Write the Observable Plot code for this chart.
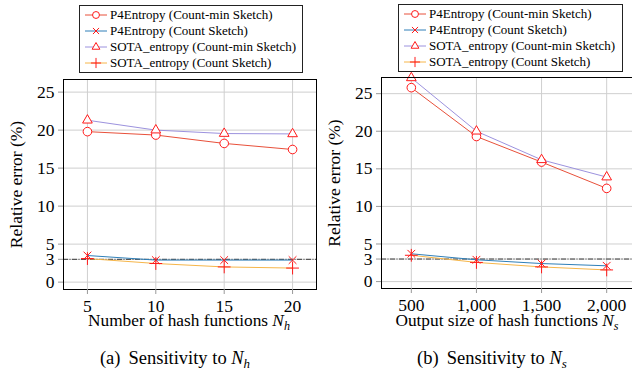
<!DOCTYPE html>
<html><head><meta charset="utf-8">
<script src="https://cdn.jsdelivr.net/npm/d3@7"></script>
<script src="https://cdn.jsdelivr.net/npm/@observablehq/plot@0.6"></script>
<style>
html,body{margin:0;padding:0;background:#fff;}
#wrap{position:relative;width:632px;height:370px;overflow:hidden;font-family:"Liberation Serif","Times New Roman",serif;color:#000;background:#fff;}
.panel{position:absolute;top:0;}
.legend{position:absolute;border:1px solid #222;background:#fff;box-sizing:border-box;font-size:13px;padding-top:1px;}
.legend .row{display:flex;align-items:center;height:16px;padding-left:4px;white-space:nowrap;}
.legend svg{margin-right:2px;flex:none;}
.lbl{position:absolute;white-space:nowrap;transform:translate(-50%,-50%);line-height:1;}
.lbl sub{font-size:0.7em;line-height:0;vertical-align:-0.3em;font-style:italic;}
.lbl .tag{margin-right:8px;}
</style>
</head><body>
<div id="wrap"></div>
<script>
// ---- data ----
const seriesNames = ["P4Entropy (Count-min Sketch)", "P4Entropy (Count Sketch)", "SOTA_entropy (Count-min Sketch)", "SOTA_entropy (Count Sketch)"];
const nhValues = [5, 10, 15, 20];
const nhP4CountMin = [19.8, 19.35, 18.25, 17.45];
const nhP4Count = [3.5, 2.9, 2.9, 2.9];
const nhSotaCountMin = [21.3, 20.0, 19.55, 19.5];
const nhSotaCount = [3.1, 2.45, 2.0, 1.85];
const nsValues = [500, 1000, 1500, 2000];
const nsP4CountMin = [25.8, 19.3, 15.9, 12.4];
const nsP4Count = [3.7, 2.9, 2.4, 2.1];
const nsSotaCountMin = [27.1, 20.0, 16.2, 13.9];
const nsSotaCount = [3.5, 2.55, 1.95, 1.55];
const yTicks = [0, 3, 5, 10, 15, 20, 25];
const thresholdValue = 3;
const yLabel = "Relative error (%)";

// ---- styles ----
const FONT = '"Liberation Serif", "Times New Roman", serif';
const styles = [
  {line: "#e8503a", symbol: "circle", fill: "white", r: 4.3},
  {line: "#2f7fb8", symbol: "times", fill: "none", r: 3.6},
  {line: "#9c92de", symbol: "triangle", fill: "white", r: 3.6},
  {line: "#f6b64a", symbol: "plus", fill: "none", r: 4.2}
];

function table(xs, arrays) {
  return arrays.flatMap((vals, i) => xs.map((x, j) => ({x, y: vals[j], s: i})));
}

function panel(opts) {
  const data = table(opts.xs, opts.series);
  const marks = [
    Plot.gridX(opts.xs, {stroke: "#cfcfcf", strokeOpacity: 1}),
    Plot.gridY(yTicks, {stroke: "#cfcfcf", strokeOpacity: 1}),
    Plot.ruleY([thresholdValue], {stroke: "#3a3a3a", strokeWidth: 1, strokeDasharray: "5,1.5,1,1.5"})
  ];
  styles.forEach((st, i) => {
    const d = data.filter(r => r.s === i);
    marks.push(Plot.line(d, {x: "x", y: "y", stroke: st.line, strokeWidth: 1}));
    marks.push(Plot.dot(d, {x: "x", y: "y", symbol: () => st.symbol, r: st.r, stroke: "#ff1a1a", fill: st.fill, strokeWidth: 1}));
  });
  marks.push(Plot.frame({stroke: "#000", strokeWidth: 1}));
  marks.push(Plot.axisX(opts.xs, {tickSize: 5, tickPadding: 5, stroke: "#999", label: null, tickFormat: opts.fmt, fontSize: 17.5}));
  marks.push(Plot.axisY(yTicks, {tickSize: 5, tickPadding: 4, stroke: "#999", label: yLabel, labelArrow: "none", labelAnchor: "center", labelOffset: 54, fontSize: 17.5}));
  const svg = Plot.plot({
    width: 320, height: 340,
    marginTop: opts.mt, marginBottom: 340 - opts.mb, marginLeft: opts.ml, marginRight: 4,
    x: {domain: opts.xdomain},
    y: {domain: opts.ydomain},
    style: {fontFamily: FONT, fontSize: "18.5px", background: "transparent", color: "#000", overflow: "visible"},
    marks
  });
  svg.classList.add("panel");
  svg.style.left = opts.left + "px";
  return svg;
}

function legend(left, top, width) {
  const div = document.createElement("div");
  div.className = "legend";
  div.style.left = left + "px"; div.style.top = top + "px";
  div.style.width = width + "px"; div.style.height = "68px";
  const types = {circle: d3.symbolCircle, times: d3.symbolTimes, triangle: d3.symbolTriangle, plus: d3.symbolPlus};
  seriesNames.forEach((name, i) => {
    const st = styles[i];
    const row = document.createElement("div");
    row.className = "row";
    const sw = d3.create("svg").attr("width", 24).attr("height", 12);
    sw.append("line").attr("x1", 1).attr("x2", 23).attr("y1", 6).attr("y2", 6).attr("stroke", st.line);
    sw.append("path").attr("transform", "translate(12,6)")
      .attr("d", d3.symbol(types[st.symbol], Math.PI * (st.r * 0.8) ** 2)())
      .attr("stroke", "#ff1a1a").attr("fill", st.fill);
    row.appendChild(sw.node());
    row.appendChild(document.createTextNode(name));
    div.appendChild(row);
  });
  return div;
}

function label(html, cx, cy, size) {
  const div = document.createElement("div");
  div.className = "lbl";
  div.style.left = cx + "px"; div.style.top = cy + "px";
  div.style.fontSize = size + "px";
  div.innerHTML = html;
  return div;
}

const wrap = document.getElementById("wrap");
wrap.appendChild(panel({xs: nhValues, series: [nhP4CountMin, nhP4Count, nhSotaCountMin, nhSotaCount],
  xdomain: [3.25, 21.75], ydomain: [-0.97, 26.66], mt: 79, mb: 289, ml: 63, left: 0, fmt: d3.format("d")}));
wrap.appendChild(panel({xs: nsValues, series: [nsP4CountMin, nsP4Count, nsSotaCountMin, nsSotaCount],
  xdomain: [271, 2229], ydomain: [-0.92, 27.15], mt: 77, mb: 288, ml: 61, left: 320, fmt: d3.format(",")}));
wrap.appendChild(legend(79, 5, 224));
wrap.appendChild(legend(398, 4, 225));
wrap.appendChild(label('Number of hash functions <i>N</i><sub>h</sub>', 189, 321, 17.3));
wrap.appendChild(label('Output size of hash functions <i>N</i><sub>s</sub>', 507, 321, 17.3));
wrap.appendChild(label('<span class="tag">(a)</span>Sensitivity to <i>N</i><sub>h</sub>', 175, 358, 18.5));
wrap.appendChild(label('<span class="tag">(b)</span>Sensitivity to <i>N</i><sub>s</sub>', 492, 358, 18.5));
</script>
</body></html>
